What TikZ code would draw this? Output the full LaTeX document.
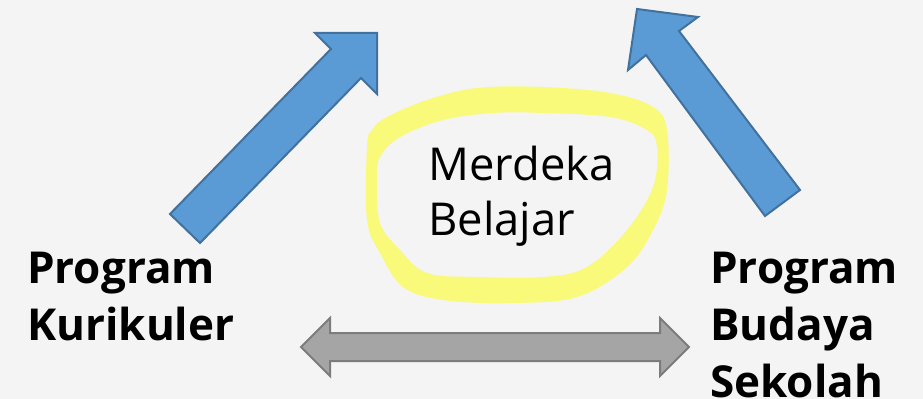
\documentclass[tikz,border=0pt]{standalone}
\usepackage{fontspec}
\setmainfont{Open Sans}
\definecolor{pagegray}{RGB}{244,244,244}
\definecolor{arrowblue}{RGB}{91,155,213}
\definecolor{arrowblueline}{RGB}{65,113,156}
\definecolor{arrowgray}{RGB}{165,165,165}
\definecolor{arrowgrayline}{RGB}{124,124,124}
\definecolor{marker}{RGB}{249,249,122}
\begin{document}
\begin{tikzpicture}[x=0.75pt,y=0.75pt,yscale=-1,xscale=1,
  bluearrow/.style={fill=arrowblue, draw=arrowblueline, line width=1.5, line join=miter},
  grayarrow/.style={fill=arrowgray, draw=arrowgrayline, line width=1.5, line join=miter},
  boldlabel/.style={anchor=base west, inner sep=0pt, align=left, font=\fontsize{33}{42.75}\selectfont\bfseries}]
        %set diagram size to the reference
        \fill[pagegray] (0,0) rectangle (923,399);
        \useasboundingbox (0,0) rectangle (923,399);
        
        %Shape: Up Right Arrow
        \draw [bluearrow] (170,214) -- (331,49) -- (315,33) -- (377,33) -- (377,94) -- (361,78) -- (200,243) -- cycle ;
        %Shape: Up Left Arrow
        \draw [bluearrow] (800,190) -- (679,31) -- (698,17) -- (637,9) -- (628,70) -- (646,55) -- (765,216) -- cycle ;
        %Shape: Left Right Arrow
        \draw [grayarrow] (301,347) -- (330,318) -- (330,333) -- (660,333) -- (660,318) -- (689,347) -- (660,376) -- (660,361) -- (330,361) -- (330,376) -- cycle ;
        %Shape: Highlighter Ring
        \fill [marker, even odd rule]
          plot [smooth cycle, tension=0.6] coordinates {(367,147) (367,220) (380,253) (403,287) (443,300) (510,303) (577,297) (627,267) (653,230) (667,190) (667,130) (653,107) (610,93) (543,87) (477,88) (427,100) (387,117) (372,130)}
          plot [smooth cycle, tension=0.6] coordinates {(377,180) (380,223) (400,250) (427,273) (477,277) (543,277) (587,267) (627,230) (653,187) (657,147) (647,130) (610,117) (543,113) (493,113) (443,120) (400,137) (380,157)} ;
        
        % Text Node (base is the last line)
        \node (merdeka) [anchor=base west, inner sep=0pt, align=left, font=\fontsize{34}{41.25}\selectfont] at (428,235) {Merdeka\\Belajar};
        % Text Node
        \node (kurikuler) [boldlabel] at (27,340) {Program\\Kurikuler};
        % Text Node
        \node (budaya) [boldlabel] at (710,397) {Program\\Budaya\\Sekolah};
        
\end{tikzpicture}
\end{document}
